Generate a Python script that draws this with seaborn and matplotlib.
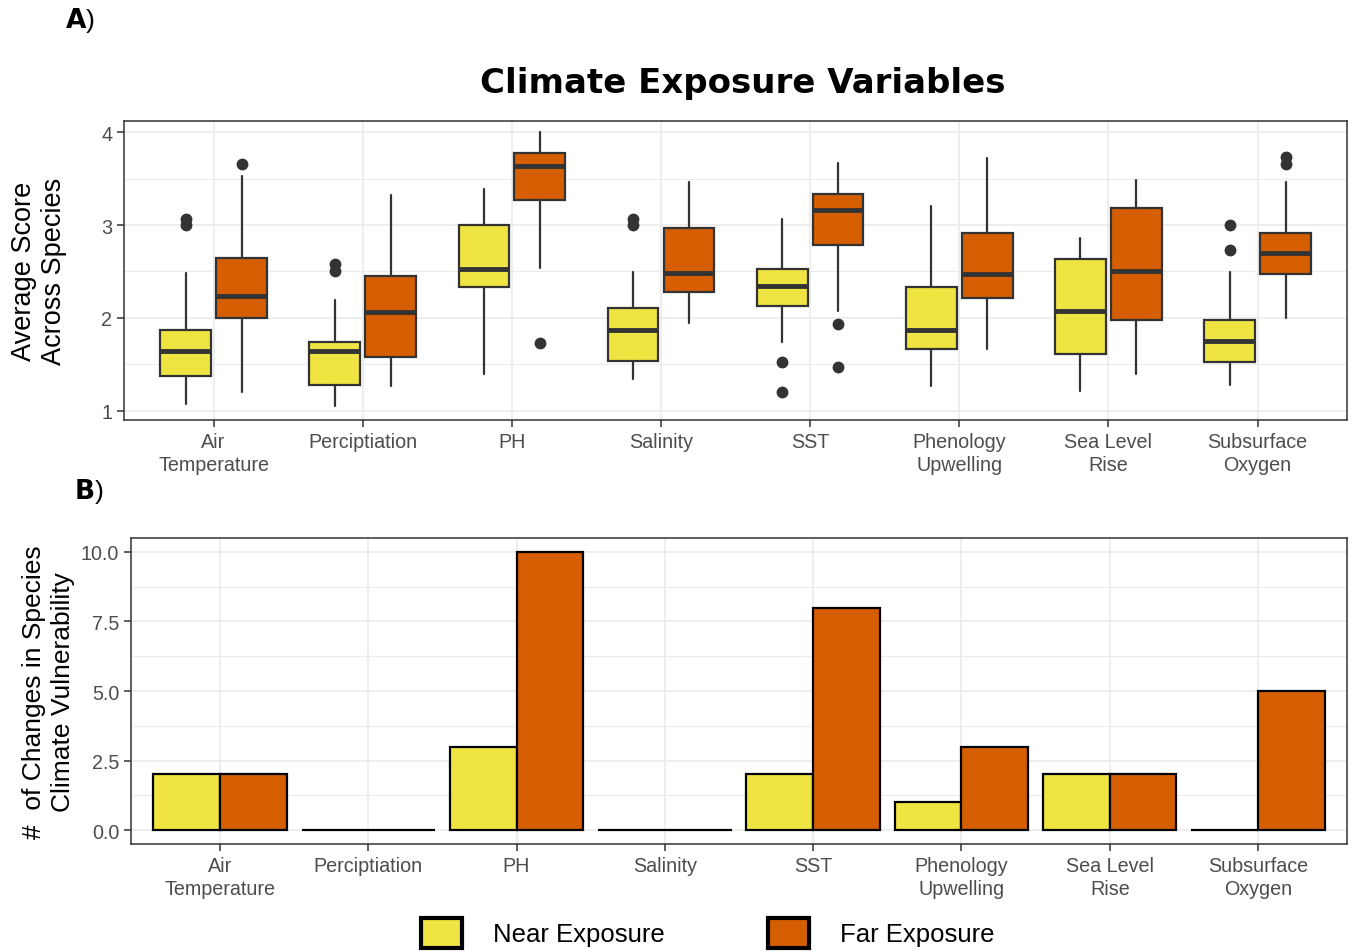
import matplotlib
matplotlib.use("Agg")
import matplotlib.pyplot as plt
from matplotlib.patches import Patch
from matplotlib.ticker import MultipleLocator, FixedLocator
import seaborn as sns
import pandas as pd

# ---- data -------------------------------------------------------------
categories = ["Air\nTemperature", "Perciptiation", "PH", "Salinity", "SST",
              "Phenology\nUpwelling", "Sea Level\nRise", "Subsurface\nOxygen"]
groups = ["Near Exposure", "Far Exposure"]

# box summary statistics (average score across species)
near_whislo = [1.07, 1.05, 1.40, 1.34, 1.74, 1.27, 1.21, 1.28]
near_q1     = [1.37, 1.28, 2.33, 1.54, 2.13, 1.67, 1.61, 1.53]
near_med    = [1.64, 1.64, 2.53, 1.87, 2.34, 1.87, 2.07, 1.75]
near_q3     = [1.87, 1.74, 3.00, 2.11, 2.53, 2.33, 2.63, 1.98]
near_whishi = [2.48, 2.19, 3.39, 2.49, 3.07, 3.20, 2.86, 2.49]
near_fliers = [[3.00, 3.07], [2.50, 2.58], [], [3.00, 3.07], [1.53, 1.20],
               [], [], [3.00, 2.73]]

far_whislo = [1.20, 1.27, 2.54, 1.94, 2.07, 1.67, 1.40, 2.00]
far_q1     = [2.00, 1.58, 3.27, 2.28, 2.79, 2.21, 1.98, 2.47]
far_med    = [2.24, 2.06, 3.64, 2.48, 3.16, 2.47, 2.50, 2.70]
far_q3     = [2.65, 2.45, 3.78, 2.97, 3.33, 2.91, 3.18, 2.91]
far_whishi = [3.53, 3.32, 4.00, 3.46, 3.67, 3.72, 3.49, 3.46]
far_fliers = [[3.66], [], [1.73], [], [1.93, 1.47], [], [], [3.73, 3.66]]

# number of changes in species climate vulnerability
near_changes = [2, 0, 3, 0, 2, 1, 2, 0]
far_changes  = [2, 0, 10, 0, 8, 3, 2, 5]

# ---- style ------------------------------------------------------------
YELLOW = "#F0E442"
ORANGE = "#D55E00"
DARK = "#333333"
GRID = "#EBEBEB"
TICKLAB = "#4D4D4D"

sns.set_theme(style="white")
plt.rcParams["font.family"] = ["Liberation Sans", "DejaVu Sans"]
plt.rcParams["text.color"] = "black"

fig = plt.figure(figsize=(13.53, 9.53), dpi=100)
ax1 = fig.add_axes([0.0917, 0.5582, 0.9039, 0.3137])
ax2 = fig.add_axes([0.0968, 0.1133, 0.8988, 0.3211])


def style_axes(ax):
    ax.set_axisbelow(True)
    ax.grid(which="major", color=GRID, linewidth=1.2)
    ax.grid(which="minor", axis="y", color=GRID, linewidth=0.8)
    for s in ax.spines.values():
        s.set_visible(True)
        s.set_color(DARK)
        s.set_linewidth(1.1)
    ax.tick_params(which="major", direction="out", length=5, width=1.1,
                   color=DARK, labelcolor=TICKLAB, labelsize=14.2,
                   left=True, bottom=True)
    ax.tick_params(which="minor", length=0)
    for lab in ax.get_xticklabels():
        lab.set_linespacing(1.25)


# ---- panel A: box plots -------------------------------------------------
def make_stats(lo, q1, med, q3, hi, fl):
    return [dict(whislo=lo[i], q1=q1[i], med=med[i], q3=q3[i],
                 whishi=hi[i], fliers=fl[i]) for i in range(len(lo))]


near_stats = make_stats(near_whislo, near_q1, near_med, near_q3, near_whishi, near_fliers)
far_stats = make_stats(far_whislo, far_q1, far_med, far_q3, far_whishi, far_fliers)

offset = 0.1875
for stats, color, sign in [(near_stats, YELLOW, -1), (far_stats, ORANGE, 1)]:
    ax1.bxp(stats, positions=[i + sign * offset for i in range(len(stats))],
            widths=0.34, patch_artist=True, showcaps=False, manage_ticks=False,
            boxprops=dict(facecolor=color, edgecolor=DARK, linewidth=1.6),
            medianprops=dict(color=DARK, linewidth=3.5, solid_capstyle="butt"),
            whiskerprops=dict(color=DARK, linewidth=1.6),
            flierprops=dict(marker="o", markerfacecolor=DARK,
                            markeredgecolor=DARK, markersize=7.5))

ax1.set_xlim(-0.6, 7.6)
ax1.set_ylim(0.9, 4.12)
ax1.xaxis.set_major_locator(FixedLocator(range(len(categories))))
ax1.set_xticklabels(categories)
ax1.yaxis.set_major_locator(MultipleLocator(1))
ax1.yaxis.set_minor_locator(MultipleLocator(0.5))
style_axes(ax1)
ax1.set_ylabel("Average Score\nAcross Species", fontsize=19.5, color="black",
               linespacing=1.2)
ax1.yaxis.set_label_coords(-0.047, 0.5)

# ---- panel B: bar chart -------------------------------------------------
df = pd.DataFrame({
    "variable": categories * 2,
    "exposure": [groups[0]] * len(categories) + [groups[1]] * len(categories),
    "changes": near_changes + far_changes,
})
sns.barplot(data=df, x="variable", y="changes", hue="exposure",
            order=categories, hue_order=groups, palette=[YELLOW, ORANGE],
            saturation=1, width=0.9, errorbar=None, edgecolor="black",
            linewidth=1.6, legend=False, ax=ax2)

ax2.set_xlim(-0.6, 7.6)
ax2.set_ylim(-0.5, 10.5)
ax2.yaxis.set_major_locator(FixedLocator([0, 2.5, 5, 7.5, 10]))
ax2.set_yticklabels(["0.0", "2.5", "5.0", "7.5", "10.0"])
ax2.yaxis.set_minor_locator(FixedLocator([1.25, 3.75, 6.25, 8.75]))
style_axes(ax2)
ax2.set_xlabel("")
ax2.set_ylabel("#  of Changes in Species\nClimate Vulnerability", fontsize=19,
               color="black", linespacing=1.25)
ax2.yaxis.set_label_coords(-0.046, 0.5)

# ---- titles, panel tags, legend -----------------------------------------
fig.text(0.549, 0.912, "Climate Exposure Variables", ha="center", va="center",
         fontsize=24.5, fontweight="bold", family="DejaVu Sans", color="black")
fig.text(0.048, 0.979, r"$\mathbf{A}$)", ha="left", va="center", fontsize=19)
fig.text(0.055, 0.484, r"$\mathbf{B}$)", ha="left", va="center", fontsize=19)

handles = [Patch(facecolor=YELLOW, edgecolor="black", linewidth=3),
           Patch(facecolor=ORANGE, edgecolor="black", linewidth=3)]
fig.legend(handles, groups, loc="center", bbox_to_anchor=(0.523, 0.02),
           ncol=2, frameon=False, fontsize=18.5, handlelength=1.6,
           handleheight=1.4, handletextpad=1.2, columnspacing=4.0)

fig.savefig("out.png", dpi=100)
